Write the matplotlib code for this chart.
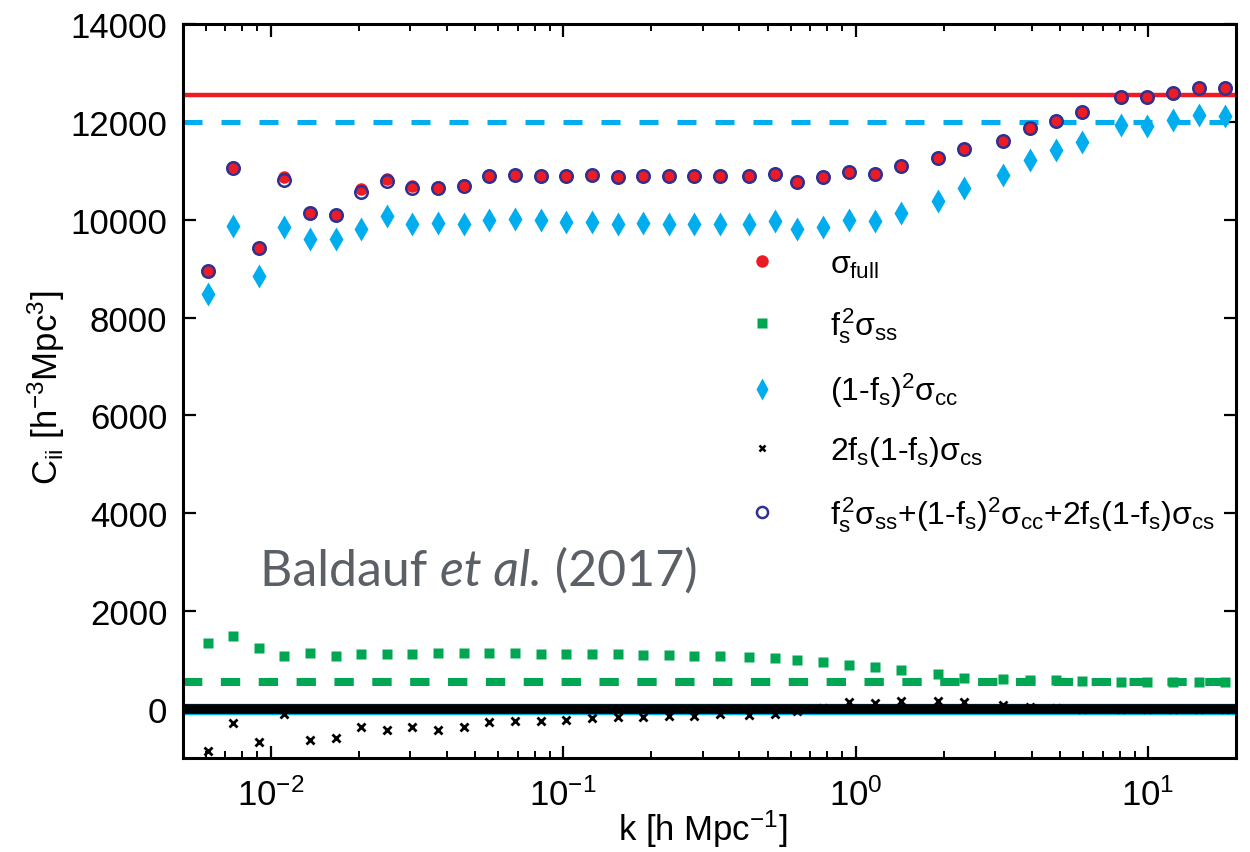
import numpy as np
import matplotlib.pyplot as plt
from matplotlib.lines import Line2D
from matplotlib.offsetbox import TextArea, HPacker, AnchoredOffsetbox

plt.rcParams['font.family'] = ['Liberation Sans', 'DejaVu Sans']
plt.rcParams['mathtext.fontset'] = 'custom'
plt.rcParams['mathtext.rm'] = 'Liberation Sans'
plt.rcParams['mathtext.it'] = 'Liberation Sans'
plt.rcParams['mathtext.bf'] = 'Liberation Sans:bold'

# k bins [h/Mpc]
k = [0.00608, 0.00744, 0.00910, 0.0111, 0.0136, 0.0167, 0.0204, 0.0249, 0.0305, 0.0374,
     0.0457, 0.0559, 0.0684, 0.0837, 0.1025, 0.1254, 0.1534, 0.1877, 0.2297, 0.281,
     0.344, 0.432, 0.530, 0.630, 0.773, 0.949, 1.164, 1.428, 1.911, 2.344,
     3.186, 3.94, 4.833, 5.933, 8.062, 9.89, 12.14, 14.89, 18.27]

# sigma_full (red dots)
sig_full = [8950, 11080, 9420, 10860, 10140, 10090, 10630, 10830, 10690, 10670,
            10700, 10880, 10920, 10900, 10890, 10910, 10875, 10890, 10880, 10880,
            10885, 10890, 10930, 10760, 10860, 10970, 10940, 11085, 11250, 11435,
            11600, 11865, 12020, 12190, 12505, 12505, 12590, 12680, 12680]

# sum of the three terms (open navy circles)
sig_sum = [8960, 11060, 9420, 10800, 10140, 10090, 10560, 10790, 10650, 10640,
           10690, 10880, 10920, 10900, 10890, 10910, 10875, 10890, 10880, 10880,
           10885, 10890, 10930, 10760, 10860, 10970, 10940, 11085, 11250, 11435,
           11600, 11865, 12020, 12190, 12505, 12505, 12590, 12680, 12680]

# f_s^2 sigma_ss (green squares)
sig_ss = [1350, 1485, 1260, 1078, 1146, 1078, 1125, 1132, 1125, 1140,
          1146, 1146, 1153, 1132, 1132, 1125, 1119, 1105, 1105, 1085,
          1080, 1071, 1044, 997, 963, 908, 861, 807, 719, 637,
          610, 590, 590, 570, 565, 565, 565, 556, 560]

# (1-f_s)^2 sigma_cc (cyan diamonds)
sig_cc = [8470, 9860, 8840, 9845, 9600, 9600, 9810, 10080, 9910, 9940,
          9910, 10000, 10010, 10000, 9950, 9950, 9910, 9930, 9910, 9910,
          9920, 9920, 9970, 9800, 9850, 10000, 9980, 10135, 10385, 10640,
          10920, 11225, 11430, 11580, 11930, 11920, 12030, 12140, 12120]

# 2 f_s (1-f_s) sigma_cs (black crosses)
sig_cs = [-848, -278, -678, -102, -624, -583, -359, -427, -366, -434,
          -373, -264, -244, -237, -217, -170, -163, -156, -136, -136,
          -102, -122, -88, -40, 30, 150, 136, 176, 163, 143,
          95, 40, 20, 10, 0, 0, 0, 0, 0]

full_level = 12545
cc_level = 12000
ss_level = 560

red = '#ED1C24'
green = '#00A651'
cyan = '#00AEEF'
navy = '#2E3192'

fig = plt.figure(figsize=(12.5, 8.53), dpi=100)
ax = fig.add_axes([0.1462, 0.110, 0.8426, 0.861])

ax.axhline(full_level, color=red, lw=3.2, zorder=2)
ax.axhline(cc_level, color=cyan, lw=3.6, dashes=(3.8, 3.8), zorder=2)
ax.axhline(ss_level, color=green, lw=5.8, dashes=(2.4, 2.3), zorder=2)
ax.axhline(0, color=cyan, lw=8.2, zorder=2)
ax.axhline(0, color='black', lw=7.0, zorder=3)

ax.plot(k, sig_ss, ls='none', marker='s', ms=7.5, color=green, mec='none', zorder=4)
ax.plot(k, sig_cc, ls='none', marker='d', ms=12.5, color=cyan, mec='none', zorder=4)
ax.plot(k, sig_cs, ls='none', marker='x', ms=6, mew=2, color='black', zorder=4)
ax.plot(k, sig_full, ls='none', marker='o', ms=9, color=red, mec='none', zorder=5)
ax.plot(k, sig_sum, ls='none', marker='o', ms=9, mfc='none', mec=navy, mew=1.8, zorder=6)

ax.set_xscale('log')
ax.set_xlim(0.005, 20)
ax.set_ylim(-1000, 14000)
ax.set_yticks(np.arange(0, 14001, 2000))

for s in ax.spines.values():
    s.set_linewidth(2.2)
ax.tick_params(which='both', direction='in', top=True, right=True, labelsize=25)
ax.tick_params(which='major', length=9, width=1.6)
ax.tick_params(which='minor', length=5, width=1.4)
ax.tick_params(axis='x', pad=14)
ax.tick_params(axis='y', pad=11)

fig.text(0.037, 0.545, r'C$_{\rm ii}$ [h$^{-3}$Mpc$^{3}$]', rotation=90,
         ha='center', va='center', fontsize=25)
fig.text(0.562, 0.003, r'k [h Mpc$^{-1}$]', ha='center', va='bottom', fontsize=25)

handles = [
    Line2D([], [], ls='none', marker='o', ms=9, color=red, mec='none'),
    Line2D([], [], ls='none', marker='s', ms=7.5, color=green, mec='none'),
    Line2D([], [], ls='none', marker='d', ms=11, color=cyan, mec='none'),
    Line2D([], [], ls='none', marker='x', ms=5, mew=1.8, color='black'),
    Line2D([], [], ls='none', marker='o', ms=8, mfc='none', mec=navy, mew=1.8),
]
labels = [
    r'$\sigma_{\rm full}$',
    r'$f_s^2\sigma_{ss}$',
    r'$(1$-$f_s)^2\sigma_{cc}$',
    r'$2f_s(1$-$f_s)\sigma_{cs}$',
    r'$f_s^2\sigma_{ss}$+$(1$-$f_s)^2\sigma_{cc}$+$2f_s(1$-$f_s)\sigma_{cs}$',
]
ax.legend(handles, labels, loc='upper left', bbox_to_anchor=(0.571, 0.725),
          bbox_transform=fig.transFigure, frameon=False, fontsize=23,
          handletextpad=1.15, labelspacing=0.8, borderpad=0)

gray = '#5B5F66'
tp = dict(fontsize=36, color=gray, family='Lato')
parts = [TextArea('Baldauf ', textprops=tp),
         TextArea('et al.', textprops=dict(tp, style='italic')),
         TextArea(' (2017)', textprops=tp)]
box = HPacker(children=parts, align='baseline', pad=0, sep=0)
anch = AnchoredOffsetbox(loc='lower left', child=box, pad=0, borderpad=0, frameon=False,
                         bbox_to_anchor=(0.208, 0.303), bbox_transform=fig.transFigure)
ax.add_artist(anch)

fig.savefig('out.png', dpi=100)
